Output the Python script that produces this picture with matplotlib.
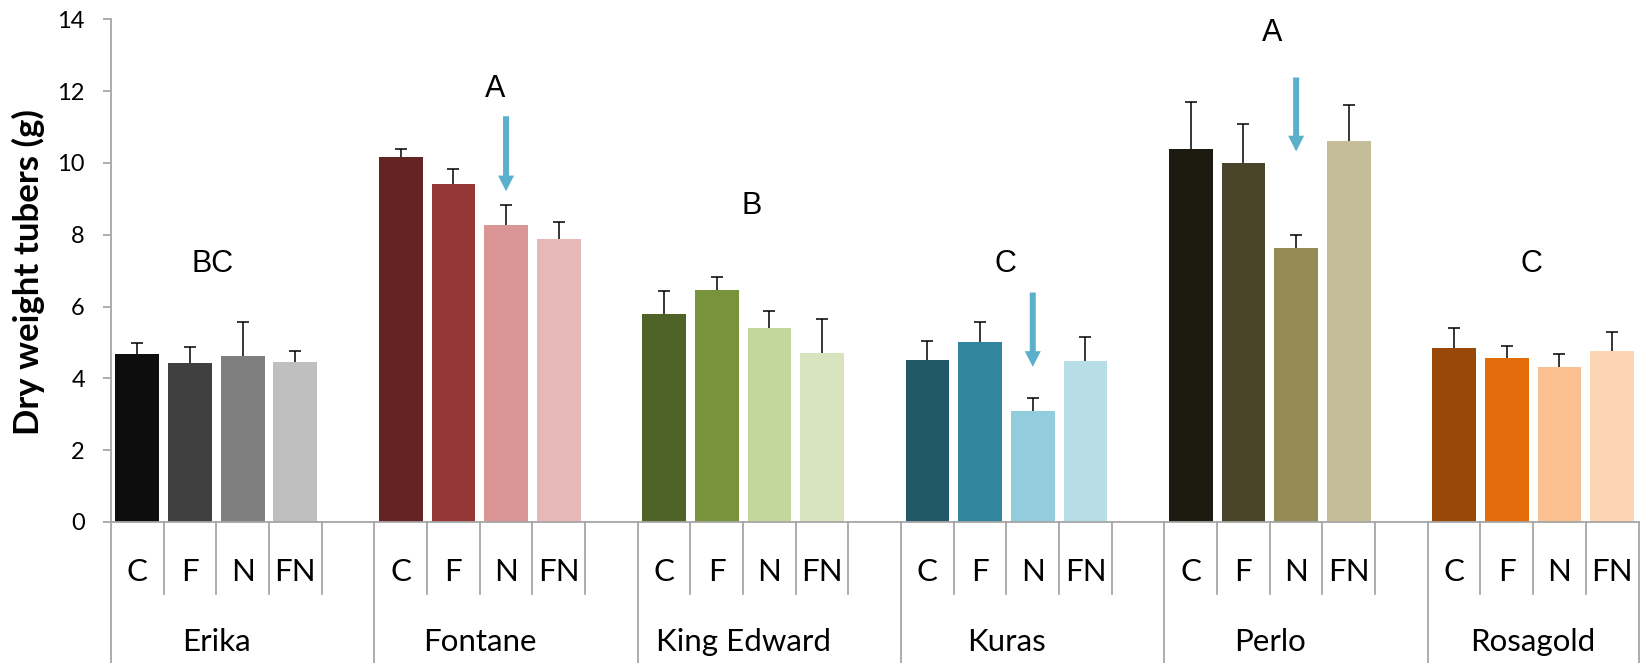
import matplotlib
matplotlib.use('Agg')
import matplotlib.pyplot as plt
import numpy as np

# data
groups = ['Erika', 'Fontane', 'King Edward', 'Kuras', 'Perlo', 'Rosagold']
treatments = ['C', 'F', 'N', 'FN']

means = {
    'Erika':       [4.69, 4.42, 4.63, 4.45],
    'Fontane':     [10.16, 9.41, 8.27, 7.88],
    'King Edward': [5.79, 6.46, 5.40, 4.71],
    'Kuras':       [4.52, 5.02, 3.10, 4.49],
    'Perlo':       [10.38, 10.00, 7.62, 10.61],
    'Rosagold':    [4.85, 4.57, 4.32, 4.77],
}
errors = {
    'Erika':       [0.30, 0.46, 0.95, 0.31],
    'Fontane':     [0.22, 0.41, 0.57, 0.48],
    'King Edward': [0.63, 0.35, 0.49, 0.95],
    'Kuras':       [0.52, 0.56, 0.36, 0.65],
    'Perlo':       [1.31, 1.08, 0.37, 0.99],
    'Rosagold':    [0.54, 0.33, 0.37, 0.52],
}
colors = {
    'Erika':       ['#0d0d0d', '#404040', '#7f7f7f', '#bfbfbf'],
    'Fontane':     ['#632423', '#953735', '#d99694', '#e6b9b8'],
    'King Edward': ['#4f6228', '#77933c', '#c3d69b', '#d7e4bd'],
    'Kuras':       ['#215968', '#31859c', '#93cddd', '#b7dee8'],
    'Perlo':       ['#1d1b10', '#4a452a', '#948a54', '#c4bd97'],
    'Rosagold':    ['#984807', '#e46c0a', '#fac090', '#fcd5b5'],
}

# significance letters per cultivar
letters = ['BC', 'A', 'B', 'C', 'A', 'C']
letter_y = [7.19, 12.06, 8.80, 7.18, 13.61, 7.18]
letter_dx = [1.92, 2.29, 2.16, 1.98, 2.05, 1.97]

# arrows above the N bar (cultivar, top, tip)
arrows = [('Fontane', 11.30, 9.21), ('Kuras', 6.39, 4.32), ('Perlo', 12.38, 10.32)]

SLOTS = 5  # 4 bars + one empty slot per cultivar
GRAY = '#a6a6a6'
ARROW = '#5aafca'

fig = plt.figure(figsize=(16.42, 6.63), dpi=100)
ax = fig.add_axes([0.0676, 0.21267, 0.93027, 0.75822])

for g, name in enumerate(groups):
    x = g * SLOTS + np.arange(len(treatments)) + 0.5
    ax.bar(x, means[name], width=0.83, color=colors[name], zorder=2)
    eb = ax.errorbar(x, means[name], yerr=[np.zeros(4), errors[name]], fmt='none',
                     ecolor='black', elinewidth=1.1, capsize=4.3, capthick=1.1, zorder=3)
    # only the upper cap, like the original
    eb[1][0].set_visible(False)
    ax.text(g * SLOTS + letter_dx[g], letter_y[g], letters[g], ha='center', va='center',
            fontsize=22, family='Liberation Sans')

for name, y0, y1 in arrows:
    xa = groups.index(name) * SLOTS + treatments.index('N') + 0.5
    ax.annotate('', xy=(xa, y1), xytext=(xa, y0),
                arrowprops=dict(width=4.3, headwidth=11.5, headlength=11.3, shrink=0,
                                color=ARROW, lw=0))

nslots = SLOTS * len(groups) - 1
ax.set_xlim(0, nslots)
ax.set_ylim(0, 14)
ax.set_yticks(range(0, 15, 2))
ax.set_xticks([])

for s in ['top', 'right']:
    ax.spines[s].set_visible(False)
for s in ['left', 'bottom']:
    ax.spines[s].set_color(GRAY)
    ax.spines[s].set_linewidth(1.3)
ax.tick_params(axis='y', length=5.8, width=1.3, color=GRAY, pad=13, labelsize=17)
for lab in ax.get_yticklabels():
    lab.set_family('Lato')

# two level category axis
trans = ax.get_xaxis_transform()
for i in range(nslots + 1):
    if i % SLOTS == 0 or i == nslots:
        ax.plot([i, i], [0, -0.30], color=GRAY, lw=1.3, transform=trans, clip_on=False)
    else:
        ax.plot([i, i], [0, -0.1438], color=GRAY, lw=1.3, transform=trans, clip_on=False)

for g, name in enumerate(groups):
    for j, t in enumerate(treatments):
        ax.text(g * SLOTS + j + 0.5, -0.099, t, transform=trans, ha='center', va='center',
                fontsize=22.5, family='Lato')
    ax.text(g * SLOTS + 2.0, -0.238, name, transform=trans, ha='center', va='center',
            fontsize=22.5, family='Lato')

fig.text(0.0171, 0.589, 'Dry weight tubers (g)', rotation=90, ha='center', va='center',
         fontsize=25, fontweight='bold', family='Lato')

fig.savefig('out.png', dpi=100)
